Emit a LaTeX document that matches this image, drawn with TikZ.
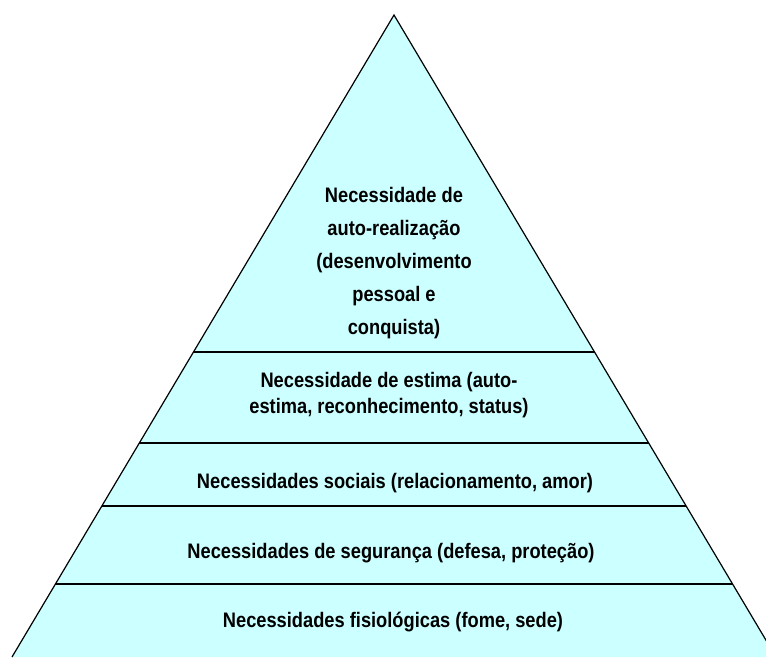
\documentclass[tikz,border=0pt]{standalone}
\usepackage{fontspec}
\newfontfamily\pyrfont{Liberation Sans}[FakeStretch=0.87]
\usepackage{tikz}
\usetikzlibrary{calc}

\definecolor{pyrfill}{RGB}{204,255,255}

\tikzset{
    tier/.style={font=\pyrfont\bfseries\fontsize{21}{26}\selectfont, align=center, inner sep=0pt},
    divider/.style={line width=2.8pt},
}

\begin{document}
\begin{tikzpicture}[x=1pt, y=-1pt]
    \useasboundingbox (0,0) rectangle (766,657);
    \clip (0,0) rectangle (766,657);
    % Pyramid outline
    \coordinate (apex) at (394,15);
    \coordinate (bl) at (12,657);
    \coordinate (br) at (776,657);
    \filldraw[fill=pyrfill, line width=1.2pt] (bl) -- (apex) -- (br);
    % Level dividers
    \foreach \yy [count=\i] in {352,443,506,584} {
        \pgfmathsetmacro{\t}{(\yy-15)/642}
        \draw[divider] ($(apex)!\t!(bl)$) coordinate (L\i) -- ($(apex)!\t!(br)$) coordinate (R\i);
    }
    % Labels
    \node[tier, font=\pyrfont\bfseries\fontsize{21}{33}\selectfont] (selfreal) at (394,263)
        {Necessidade de\\auto-realização\\(desenvolvimento\\pessoal e\\conquista)};
    \node[tier] (esteem) at (389,395) {Necessidade de estima (auto-\\estima, reconhecimento, status)};
    \node[tier] (social) at (395,483) {Necessidades sociais (relacionamento, amor)};
    \node[tier] (safety) at (391,553) {Necessidades de segurança (defesa, proteção)};
    \node[tier] (physio) at (393,622) {Necessidades fisiológicas (fome, sede)};
\end{tikzpicture}
\end{document}
